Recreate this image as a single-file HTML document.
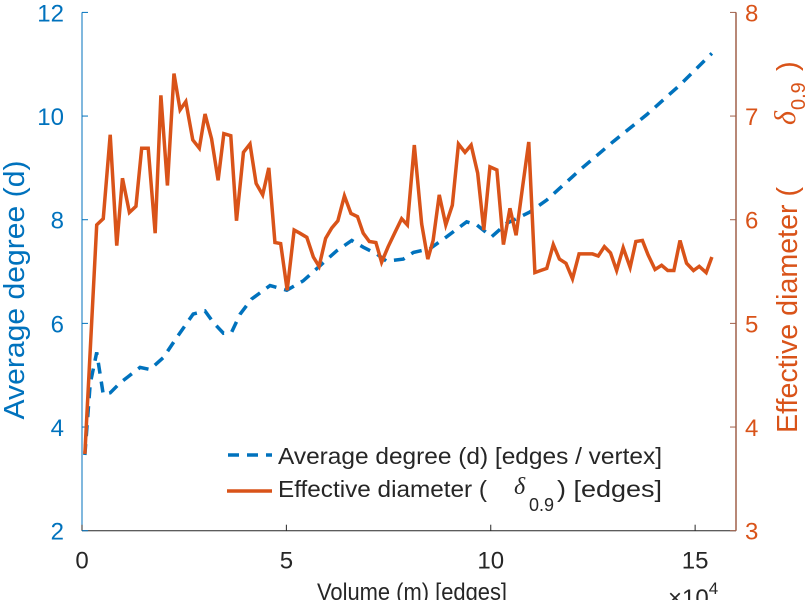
<!DOCTYPE html>
<html><head><meta charset="utf-8"><style>
html,body{margin:0;padding:0;background:#fff;}
svg{display:block;font-family:"Liberation Sans",sans-serif;}
</style></head><body>
<svg id="chart" width="812" height="600" viewBox="0 0 812 600" xmlns="http://www.w3.org/2000/svg"></svg>
<script>
const degX=[0.07,0.20,0.36,0.52,0.69,0.93,1.42,1.66,1.99,2.32,2.72,3.01,3.21,3.46,3.66,3.87,4.15,4.60,5.01,5.41,5.82,6.23,6.60,6.88,7.21,7.45,7.86,8.11,8.51,8.92,9.41,9.66,10.02,10.39,10.96,11.37,12.18,13.00,13.82,14.63,15.41];
const degY=[3.46,4.83,5.44,4.63,4.66,4.85,5.15,5.11,5.34,5.73,6.18,6.24,6.02,5.81,5.83,6.18,6.47,6.73,6.64,6.82,7.11,7.40,7.60,7.47,7.34,7.20,7.24,7.37,7.44,7.67,7.96,7.90,7.67,7.93,8.15,8.38,8.96,9.51,10.03,10.60,11.21];
const diaX=[0.07,0.36,0.52,0.69,0.85,0.99,1.16,1.32,1.46,1.62,1.79,1.93,2.09,2.25,2.40,2.54,2.71,2.87,3.01,3.17,3.33,3.47,3.64,3.78,3.95,4.11,4.26,4.42,4.57,4.72,4.86,5.02,5.19,5.33,5.50,5.66,5.80,5.96,6.11,6.26,6.42,6.58,6.74,6.88,7.03,7.19,7.33,7.49,7.66,7.82,7.96,8.13,8.31,8.46,8.59,8.74,8.90,9.06,9.21,9.37,9.52,9.68,9.83,9.98,10.15,10.31,10.47,10.62,10.78,10.93,11.08,11.22,11.37,11.53,11.68,11.84,12.00,12.16,12.32,12.49,12.63,12.78,12.93,13.08,13.24,13.41,13.55,13.71,13.85,14.02,14.18,14.33,14.48,14.63,14.79,14.96,15.10,15.27,15.41];
const diaY=[3.74,5.95,6.01,6.82,5.75,6.40,6.07,6.13,6.69,6.69,5.87,7.20,6.33,7.41,7.06,7.14,6.77,6.69,7.02,6.78,6.38,6.83,6.81,5.99,6.65,6.73,6.35,6.24,6.50,5.78,5.77,5.32,5.90,5.87,5.83,5.64,5.55,5.82,5.92,5.99,6.23,6.06,6.03,5.87,5.79,5.78,5.59,5.74,5.88,6.01,5.95,6.72,5.96,5.62,5.80,6.24,5.95,6.14,6.73,6.65,6.72,6.45,5.90,6.51,6.48,5.76,6.11,5.85,6.32,6.75,5.49,5.51,5.53,5.76,5.62,5.58,5.43,5.67,5.67,5.67,5.65,5.74,5.68,5.51,5.73,5.54,5.79,5.80,5.66,5.52,5.56,5.51,5.51,5.80,5.58,5.51,5.55,5.49,5.64];
const xTicks=[0,5,10,15];
const yLeftTicks=[2,4,6,8,10,12];
const yRightTicks=[3,4,5,6,7,8];

const L=82,R=736,T=12.4,B=530.7;
const X=v=>L+(v/16)*(R-L);
const YL=v=>B-(v-2)/10*(B-T);
const YR=v=>B-(v-3)/5*(B-T);
const svg=document.getElementById('chart');
const NS='http://www.w3.org/2000/svg';
function mk(tag,attrs,parent){const e=document.createElementNS(NS,tag);for(const k in attrs)e.setAttribute(k,attrs[k]);(parent||svg).appendChild(e);return e;}
const BLUE='#0072BD',ORG='#D95319';

const ax=mk('g',{});


mk('line',{x1:L,y1:B,x2:R,y2:B,stroke:'#262626','stroke-width':1},ax);
mk('line',{x1:L,y1:T,x2:L,y2:B,stroke:BLUE,'stroke-width':1},ax);
mk('line',{x1:R,y1:T,x2:R,y2:B,stroke:'#a0604a','stroke-width':1.5},ax);

xTicks.forEach(v=>{
  mk('line',{x1:X(v),y1:B,x2:X(v),y2:B-6,stroke:'#262626'},ax);
  const t=mk('text',{x:X(v),y:B+38,'text-anchor':'middle','font-size':24,fill:'#262626'},ax);
  t.textContent=v;
  
  
});
yLeftTicks.forEach(v=>{
  mk('line',{x1:L,y1:YL(v),x2:L+6,y2:YL(v),stroke:BLUE},ax);
  const t=mk('text',{x:L-18,y:YL(v)+9,'text-anchor':'end','font-size':24,fill:BLUE},ax);
  t.textContent=v;
  
  
});
yRightTicks.forEach(v=>{
  mk('line',{x1:R,y1:YR(v),x2:R-6,y2:YR(v),stroke:'#a0604a'},ax);
  const t=mk('text',{x:R+9,y:YR(v)+9,'text-anchor':'start','font-size':24,fill:ORG},ax);
  t.textContent=v;
  
  
});

const pd=mk('polyline',{points:degX.map((x,i)=>X(x)+','+YL(degY[i])).join(' '),fill:'none',stroke:BLUE,'stroke-width':3.5,'stroke-dasharray':'11,8'});


const po=mk('polyline',{points:diaX.map((x,i)=>X(x)+','+YR(diaY[i])).join(' '),fill:'none',stroke:ORG,'stroke-width':3.5,'stroke-linejoin':'miter'});


</script>
<svg style="position:absolute;left:0;top:0" width="812" height="600" xmlns="http://www.w3.org/2000/svg" font-family="Liberation Sans, sans-serif">
  <text transform="translate(24,290) rotate(-90)" text-anchor="middle" font-size="29" fill="#0072BD" textLength="259" lengthAdjust="spacingAndGlyphs">Average degree (d)</text>
  <g transform="translate(797,433) rotate(-90)" font-size="29" fill="#D95319">
    <text x="0" y="0" textLength="246" lengthAdjust="spacingAndGlyphs">Effective diameter (</text>
    <text x="308" y="-2" font-style="italic" font-family="Liberation Serif, serif" font-size="30">δ</text>
    <text x="323" y="8" font-size="20">0.9</text>
    <text x="362" y="0">)</text>
  </g>
  <text x="412" y="600" text-anchor="middle" font-size="24" fill="#262626" textLength="190" lengthAdjust="spacingAndGlyphs">Volume (m) [edges]</text>
  <text x="668" y="606" font-size="24" fill="#262626">×10<tspan font-size="17" dy="-12">4</tspan></text>
  <g>
    <g>
      <line x1="228" y1="455" x2="272" y2="455" stroke="#0072BD" stroke-width="3.5" stroke-dasharray="11,8"/>
      <text x="278" y="464" font-size="23" fill="#262626" textLength="384" lengthAdjust="spacingAndGlyphs">Average degree (d) [edges / vertex]</text>
    </g>
    <g>
      <line x1="227" y1="491" x2="272" y2="491" stroke="#D95319" stroke-width="3.5"/>
      <text x="278" y="497" font-size="23" fill="#262626" textLength="209" lengthAdjust="spacingAndGlyphs">Effective diameter (</text>
      <text x="514" y="494" font-size="24" font-style="italic" font-family="Liberation Serif, serif" fill="#262626">δ</text>
      <text x="529" y="511" font-size="18" fill="#262626">0.9</text>
      <text x="557" y="497" font-size="23" fill="#262626" textLength="105" lengthAdjust="spacingAndGlyphs">) [edges]</text>
    </g>
  </g>
</svg>
</body></html>
